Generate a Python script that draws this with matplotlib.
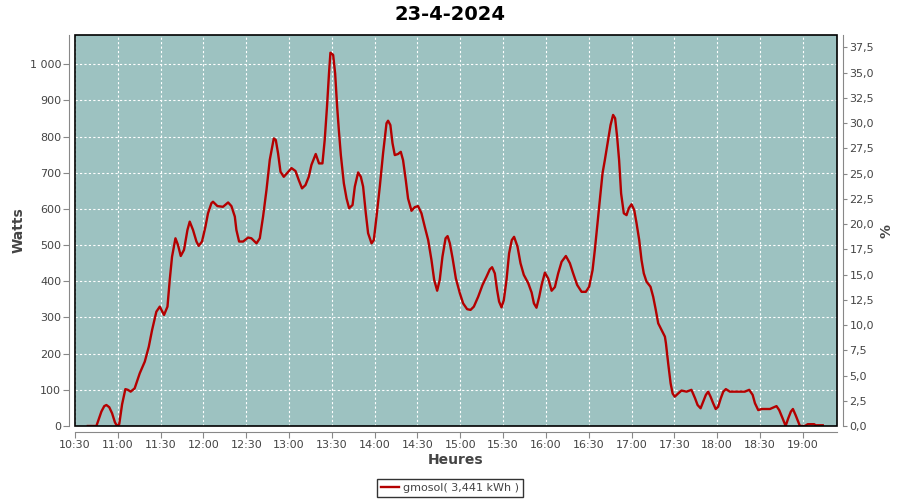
import matplotlib
matplotlib.use("Agg")
import matplotlib.pyplot as plt
from matplotlib.patches import Rectangle
from matplotlib.ticker import FuncFormatter, FixedLocator

# ---- data (minutes after 10:30, Watts) ----
t_min = [9, 15, 18.5, 20.5, 22, 24, 26, 28, 29.5, 31, 33, 35.3, 37, 39, 41.8, 45.4, 48.9, 51.7, 54, 57,
         59.4, 62.4, 64.8, 66.4, 68, 70.4, 72.2, 74.1, 76.4, 78.8, 80.4, 82.7, 85.1, 86.7, 89, 91.4, 93.2,
         95.6, 96.7, 99.8, 103.7, 107.3, 109.6, 112, 113.1, 115, 117.8, 121.3, 123.6, 127.2, 129.5, 131.8,
         134.2, 136.5, 139.3, 140.7, 142.3, 144, 146.3, 148.6, 151.7, 154.5, 156.8, 159.1, 161.5, 163.8,
         165.7, 168.7, 171, 173.4, 175, 176.6, 178, 179, 180.9, 182.3, 183.7, 184.9, 186.3, 188.4, 190.3,
         192.1, 194.5, 196.1, 198.4, 200.3, 201.9, 203.8, 205.4, 207.8, 209.4, 211.3, 213.6, 215.9, 218.3,
         219.4, 221, 222.5, 224.1, 226.4, 228.3, 229.9, 231.8, 233.4, 235.8, 238.1, 240.4, 242.8, 245.1,
         247.5, 249.8, 251.7, 253.8, 255.6, 257.5, 259.7, 261.1, 262.7, 264.6, 266.9, 269.7, 272, 274.8,
         277.2, 279.5, 282.5, 285.6, 288.4, 290.7, 292.3, 294.2, 295.8, 297.2, 298.9, 300.5, 302.4, 304.2,
         306.1, 307.7, 310.1, 312.2, 314.5, 317.6, 320, 321.6, 323.4, 325.3, 327, 329.3, 331.6, 334, 336.3,
         338.6, 341, 344, 346.8, 349.1, 351.9, 355, 358, 360.3, 362.7, 364.3, 365.9, 367.8, 369.7, 371.3,
         373.6, 375.3, 377.1, 378.5, 379.9, 381.3, 382.7, 384.6, 386.5, 388.1, 390, 391.9, 393.5, 395.4,
         397, 398.6, 400.5, 403.3, 405.2, 407, 408.7, 411.1, 413.4, 414.1, 415.7, 417.4, 418.8, 420.3,
         422.7, 425, 428.6, 432, 434.5, 436.3, 438.4, 440.2, 442.1, 443.7, 445.4, 447.2, 449, 450.7, 452.6,
         454.3, 456.1, 458.9, 469.4, 472.5, 474.9, 476.5, 478.8, 481.2, 487, 491.6, 493.5, 495.9, 498,
         499.8, 501.7, 503.1, 505, 506.8, 508, 511.5, 513.5, 518, 519, 524]
watts = [0, 0, 40, 55, 58, 52, 35, 10, 0, 5, 60, 102, 100, 95, 104, 146, 178, 219, 265, 316,
         330, 307, 330, 404, 468, 519, 500, 470, 487, 542, 565, 542, 510, 498, 510, 551, 588,
         616, 620, 608, 606, 618, 608, 579, 542, 510, 510, 521, 519, 505, 519, 579,
         653, 736, 795, 791, 754, 703, 689, 699, 713, 705, 680, 657, 666, 689,
         722, 752, 726, 726, 791, 883, 975, 1032, 1026, 975, 883, 818, 749, 671, 629,
         602, 611, 662, 701, 689, 662, 588, 533, 505, 514, 579, 662, 754, 837,
         844, 832, 782, 749, 752, 758, 735, 680, 629, 595, 605, 608, 588, 551,
         514, 459, 404, 374, 404, 468, 519, 525, 505, 464, 408, 367, 339, 323,
         321, 330, 357, 390, 413, 433, 439, 422, 376, 344, 328, 348, 404, 477,
         514, 523, 496, 450, 418, 395, 369, 339, 327, 357, 390, 424, 408, 374, 384,
         422, 454, 470, 450, 422, 390, 371, 371, 385, 431, 487, 551, 625, 699, 735,
         791, 832, 860, 851, 800, 735, 643, 588, 583, 602, 613, 597, 561, 514,
         459, 422, 399, 385, 357, 321, 284, 265, 247, 229, 173, 118, 90, 81,
         90, 98, 95, 100, 77, 58, 49, 67, 86, 95, 81, 63, 47, 53, 77,
         95, 102, 95, 95, 100, 86, 63, 44, 47, 47, 55, 44, 21, 0,
         21, 40, 47, 30, 12, 0, 0, 5, 5, 2, 2]

x_tick_labels = ["10:30", "11:00", "11:30", "12:00", "12:30", "13:00", "13:30", "14:00", "14:30",
                 "15:00", "15:30", "16:00", "16:30", "17:00", "17:30", "18:00", "18:30", "19:00"]
left_ticks = [0, 100, 200, 300, 400, 500, 600, 700, 800, 900, 1000]
right_ticks = [0, 2.5, 5, 7.5, 10, 12.5, 15, 17.5, 20, 22.5, 25, 27.5, 30, 32.5, 35, 37.5]
title = "23-4-2024"
series_label = "gmosol( 3,441 kWh )"

# ---- figure ----
plt.rcParams['font.family'] = ['DejaVu Sans']
fig = plt.figure(figsize=(9, 5), dpi=100)
ax = fig.add_axes([75 / 900, 74 / 500, (837 - 75) / 900, (426 - 35) / 500])
ax.set_facecolor('#9dc2c1')

ax.plot(t_min, watts, color='#b40000', lw=1.7, label=series_label, zorder=3)

xmax = 534
ymax = 1081
ratio = 27.92
ax.set_xlim(0, xmax)
ax.set_ylim(0, ymax)

tick_pos = [30 * i for i in range(len(x_tick_labels))]
ax.xaxis.set_major_locator(FixedLocator(tick_pos))
ax.set_xticklabels(x_tick_labels)
ax.yaxis.set_major_locator(FixedLocator(left_ticks))
ax.yaxis.set_major_formatter(FuncFormatter(lambda v, p: f"{int(v):,}".replace(",", " ")))

ax.grid(True, color='white', linestyle=(0, (2, 2)), lw=0.8)
ax.set_axisbelow(True)

gray = '#888888'
txtc = '#444444'
for s in ['top', 'right']:
    ax.spines[s].set_visible(False)
for s in ['left', 'bottom']:
    ax.spines[s].set_position(('outward', 4))
    ax.spines[s].set_color(gray)
ax.tick_params(axis='both', colors=gray, labelcolor=txtc, labelsize=8, length=4, width=0.8,
               direction='out', pad=2)

ax2 = ax.twinx()
ax2.set_ylim(0, ymax / ratio)
ax2.yaxis.set_major_locator(FixedLocator(right_ticks))
ax2.yaxis.set_major_formatter(FuncFormatter(lambda v, p: f"{v:.1f}".replace(".", ",")))
for s in ['top', 'left', 'bottom']:
    ax2.spines[s].set_visible(False)
ax2.spines['right'].set_position(('outward', 4))
ax2.spines['right'].set_color(gray)
ax2.tick_params(axis='y', colors=gray, labelcolor=txtc, labelsize=8, length=3, width=0.8, pad=2)
ax2.add_patch(Rectangle((0, 0), 1, 1, transform=ax2.transAxes, fill=False,
                        edgecolor='black', lw=1.2, clip_on=False, zorder=5))

ax.set_ylabel("Watts", fontsize=10, fontweight='bold', color=txtc, labelpad=3)
ax.set_xlabel("Heures", fontsize=10, fontweight='bold', color=txtc, labelpad=2)
ax2.set_ylabel("%", fontsize=10, fontweight='bold', color=txtc, labelpad=4)

fig.suptitle(title, fontsize=14, fontweight='bold', y=0.99)

leg = fig.legend(loc='center', bbox_to_anchor=(0.5, 12 / 500), fontsize=8,
                 frameon=True, fancybox=False, edgecolor='black', handlelength=1.6,
                 handletextpad=0.4, borderpad=0.35, labelcolor=txtc)
leg.get_frame().set_linewidth(1.0)

fig.savefig("out.png", dpi=100)
